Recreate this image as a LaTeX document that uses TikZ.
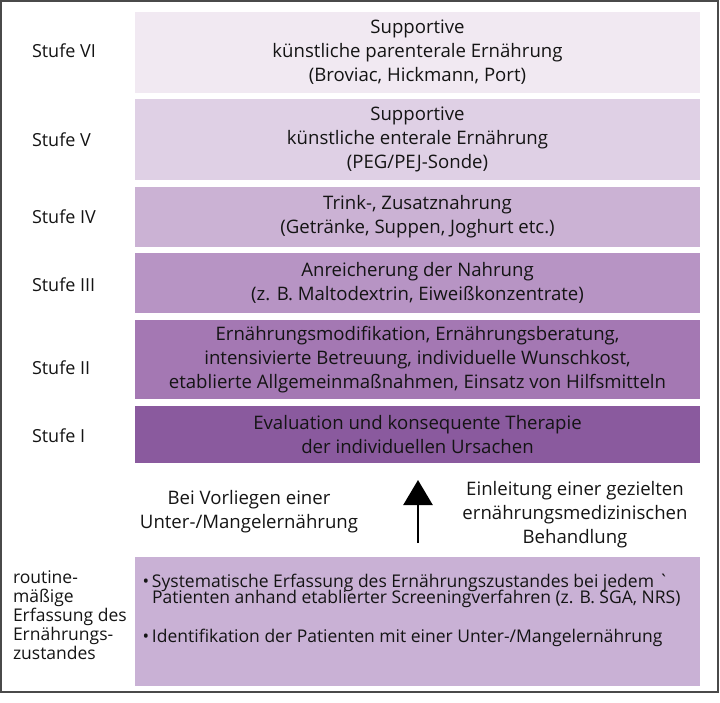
\documentclass[tikz,border=0pt]{standalone}
\usepackage{fontspec}
\setmainfont{Open Sans}
\usetikzlibrary{arrows.meta}
\definecolor{csix}{HTML}{F1E9F2}
\definecolor{cfive}{HTML}{DFD0E5}
\definecolor{cfour}{HTML}{CBB2D4}
\definecolor{cthree}{HTML}{B794C4}
\definecolor{ctwo}{HTML}{A478B3}
\definecolor{cone}{HTML}{8A5A9E}
\definecolor{cbase}{HTML}{C9B1D5}
\definecolor{txt}{HTML}{141414}
\definecolor{frame}{HTML}{4A4A4A}
\begin{document}
\begin{tikzpicture}[x=1pt,y=-1pt,
  every node/.style={inner sep=0pt, outer sep=0pt, text=txt, font=\fontsize{17.5}{24}\selectfont},
  bigtext/.style={font=\fontsize{18.6}{24}\selectfont},
  stage/.style={bigtext, fill=#1, minimum width=565pt, align=center},
  stufe/.style={anchor=west, font=\fontsize{18}{24}\selectfont},
  plain/.style={bigtext, align=center}]
\useasboundingbox (0,0) rectangle (720,702);
\draw[frame, line width=1.4pt] (1,1) rectangle (718,692);

\node[stage=csix, minimum height=81pt] (s6) at (417.5,52.5)
  {Supportive\\künstliche parenterale Ernährung\\(Broviac, Hickmann, Port)};
\node[stage=cfive, minimum height=81pt] (s5) at (417.5,139.5)
  {Supportive\\künstliche enterale Ernährung\\(PEG/PEJ-Sonde)};
\node[stage=cfour, minimum height=60pt] (s4) at (417.5,217)
  {Trink-, Zusatznahrung\\(Getränke, Suppen, Joghurt etc.)};
\node[stage=cthree, minimum height=60pt] (s3) at (417.5,283)
  {Anreicherung der Nahrung\\(z. B. Maltodextrin, Eiweißkonzentrate)};
\node[stage=ctwo, minimum height=79pt] (s2) at (417.5,359.5)
  {Ernährungsmodifikation, Ernährungsberatung,\\intensivierte Betreuung, individuelle Wunschkost,\\etablierte Allgemeinmaßnahmen, Einsatz von Hilfsmitteln};
\node[stage=cone, minimum height=57pt] (s1) at (417.5,434.5)
  {Evaluation und konsequente Therapie\\der individuellen Ursachen};
\node[fill=cbase, minimum width=565pt, minimum height=129pt] (base) at (417.5,621.5) {};

\node[stufe] (l6) at (32,51) {Stufe VI};
\node[stufe] (l5) at (32,140) {Stufe V};
\node[stufe] (l4) at (32,217) {Stufe IV};
\node[stufe] (l3) at (32,285) {Stufe III};
\node[stufe] (l2) at (32,368) {Stufe II};
\node[stufe] (l1) at (32,436) {Stufe I};

\node[plain, anchor=base] (mleft) at (249,528) {Bei Vorliegen einer\\Unter-/Mangelernährung};
\node[plain, anchor=base] (mright) at (575,543) {Einleitung einer gezielten\\ernährungsmedizinischen\\Behandlung};

\coordinate (arrfrom) at (418,543);
\coordinate (arrto) at (418,480);
\draw[line width=2.6pt, -{Triangle[length=25pt,width=29pt]}] (arrfrom) -- (arrto);

\node[align=left, anchor=base west, font=\fontsize{17.5}{19}\selectfont] (rout) at (13,659)
  {routine-\\mäßige\\Erfassung des\\Ernährungs-\\zustandes};

\node[anchor=base west] (b1a) at (152,587)
  {\llap{•\,}Systematische Erfassung des Ernährungszustandes bei jedem \textasciigrave};
\node[anchor=base west] (b1b) at (152,603)
  {Patienten anhand etablierter Screeningverfahren (z. B. SGA, NRS)};
\node[anchor=base west] (b2) at (152,642)
  {\llap{•\,}Identifikation der Patienten mit einer Unter-/Mangelernährung};
\end{tikzpicture}
\end{document}
